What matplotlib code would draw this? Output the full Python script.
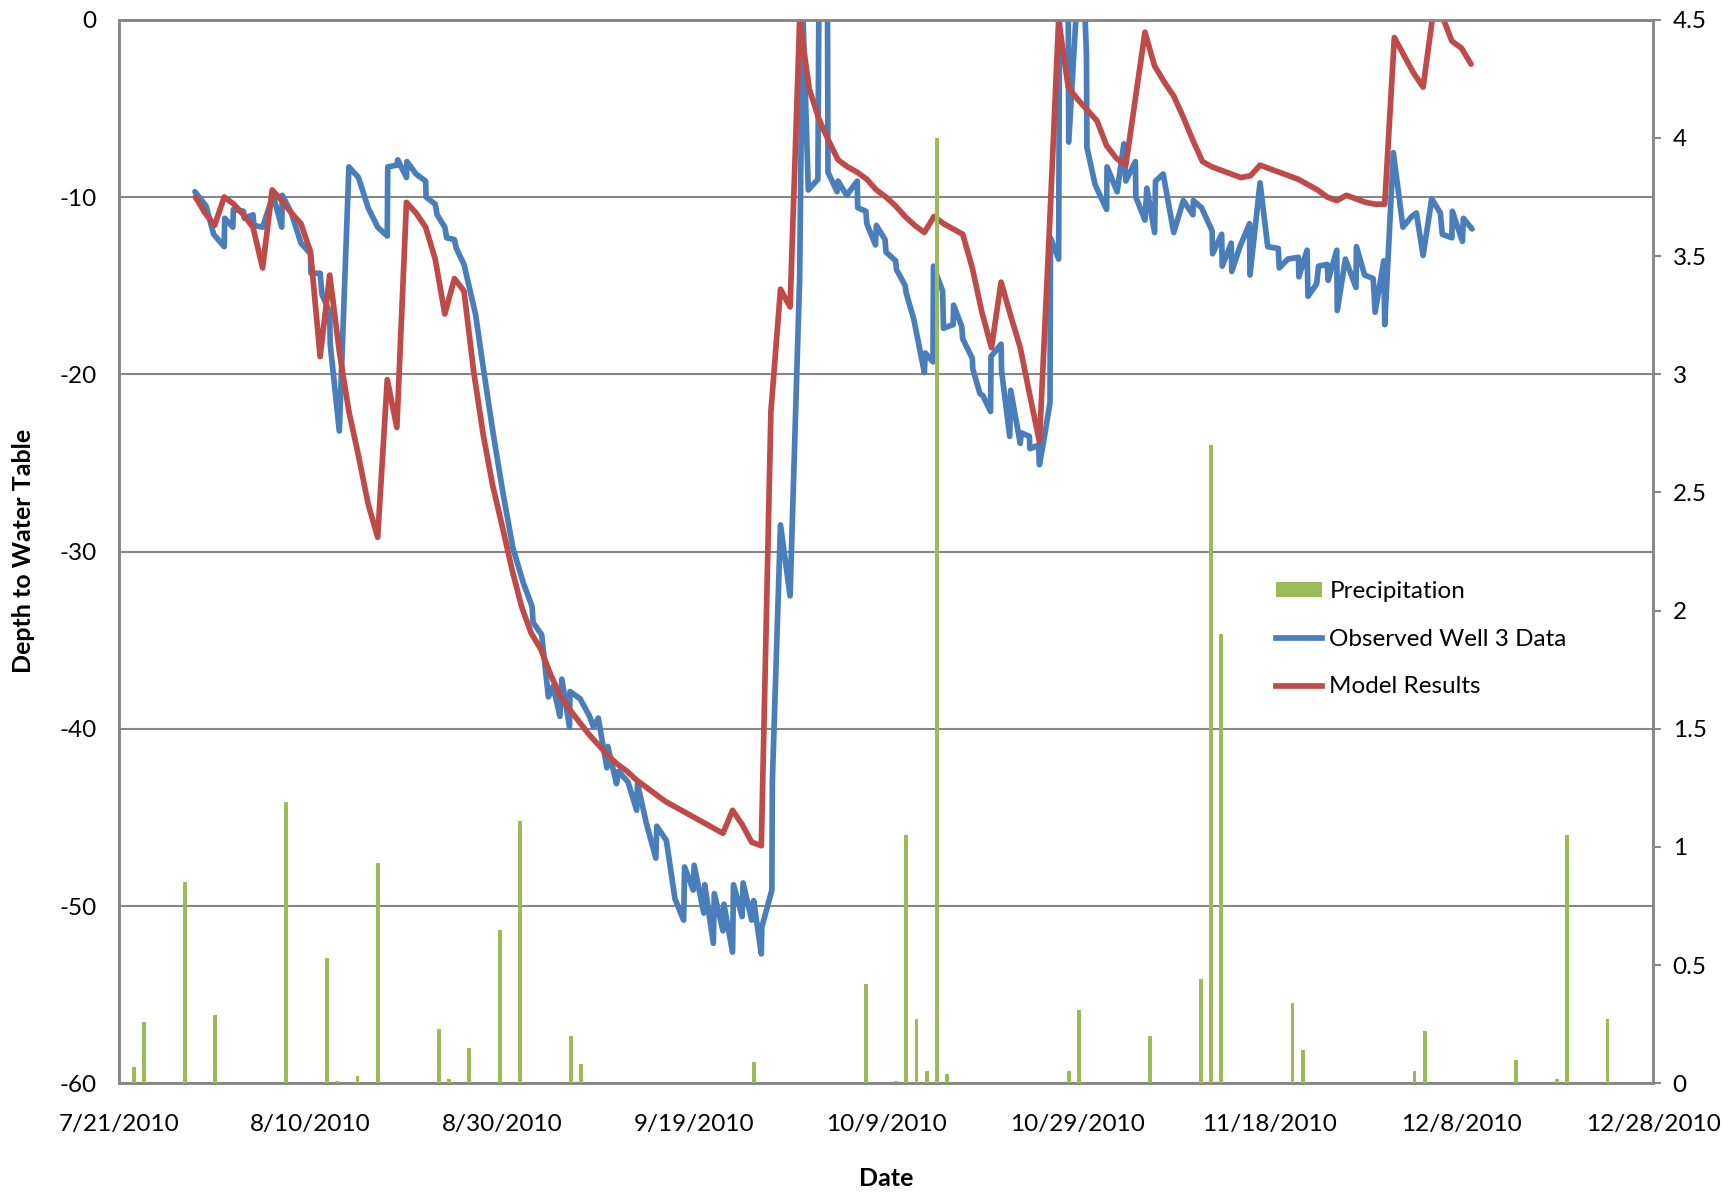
import numpy as np
import matplotlib
matplotlib.use("Agg")
import matplotlib.pyplot as plt
import matplotlib.dates as mdates
from matplotlib.patches import Patch
from matplotlib.lines import Line2D
from matplotlib.ticker import FuncFormatter, FixedLocator
import datetime as dt

# --- data (days after 7/21/2010, depth in ft) ---
start_date = dt.datetime(2010, 7, 21)
end_date = dt.datetime(2010, 12, 28)

model_day = [8, 9, 10, 11, 12, 13, 14, 15, 16, 17, 18, 19, 20, 21, 22, 23, 24, 25, 26, 27,
             28, 29, 30, 31, 32, 33, 34, 35, 36, 37, 38, 39, 40, 41, 42, 43, 44, 45, 46, 47,
             48, 49, 50, 51, 52, 53, 54, 55, 56, 57, 58, 59, 60, 61, 62, 63, 64, 65, 66, 67,
             68, 69, 70, 71, 72, 73, 74, 75, 76, 77, 78, 79, 80, 81, 82, 83, 84, 85, 86, 87,
             88, 89, 90, 91, 92, 93, 94, 95, 96, 97, 98, 99, 100, 101, 102, 103, 104, 105,
             107, 108, 109, 110, 111, 112, 113, 114, 115, 116, 117, 118, 119, 120, 121, 122,
             123, 124, 125, 126, 127, 128, 129, 130, 131, 132, 133, 134, 135, 136, 137, 138,
             139, 140, 141]
model_depth = [-10.0, -10.9, -11.6, -10.0, -10.4, -11.0, -11.7, -14.0, -9.6, -10.2, -10.9,
               -11.5, -13.1, -19.0, -14.4, -18.7, -22.1, -24.6, -27.3, -29.2, -20.3, -23.0,
               -10.3, -10.9, -11.7, -13.5, -16.6, -14.6, -15.3, -19.8, -23.4, -26.3, -28.6,
               -31.0, -33.1, -34.6, -35.5, -36.9, -38.1, -38.9, -39.6, -40.3, -40.9, -41.5,
               -42.0, -42.4, -42.9, -43.3, -43.7, -44.1, -44.4, -44.7, -45.0, -45.3, -45.6,
               -45.9, -44.6, -45.4, -46.4, -46.6, -22.1, -15.2, -16.2, 0.0, -3.9, -5.6, -6.8,
               -7.9, -8.3, -8.6, -9.0, -9.6, -10.0, -10.5, -11.1, -11.6, -12.0, -11.1, -11.5,
               -11.8, -12.1, -14.0, -16.5, -18.5, -14.8, -16.7, -18.5, -21.2, -23.8, -12.3,
               0.0, -3.8, -4.5, -5.1, -5.7, -7.1, -7.8, -8.2, -0.7, -2.6, -3.5, -4.3, -5.5,
               -6.8, -8.0, -8.3, -8.5, -8.7, -8.9, -8.8, -8.2, -8.4, -8.6, -8.8, -9.0, -9.3,
               -9.6, -10.0, -10.2, -9.9, -10.1, -10.3, -10.4, -10.4, -1.0, -2.0, -3.0, -3.8,
               0.2, 0.2, -1.2, -1.6, -2.5]

obs_day = [7.95, 9.1, 9.9, 11.0, 11.05, 11.9, 11.95, 13.0, 13.1, 14.0, 14.1, 15.0, 16.1,
           17.0, 17.05, 18.0, 19.0, 20.0, 20.05, 21.0, 21.2, 22.0, 22.05, 23.0, 24.0, 25.0,
           26.0, 27.0, 28.0, 28.05, 29.0, 29.1, 30.0, 30.05, 31.0, 32.0, 32.05, 33.0, 33.2,
           34.0, 34.2, 35.0, 35.2, 36.0, 37.2, 38.0, 39.0, 40.0, 41.1, 42.2, 43.1, 43.2,
           44.1, 44.8, 45.3, 46.0, 46.2, 47.0, 47.05, 48.1, 49.1, 49.5, 50.0, 50.9, 51.0,
           51.9, 52.1, 53.1, 54.0, 54.1, 55.0, 56.0, 56.1, 57.1, 58.0, 58.9, 59.0, 59.9,
           60.0, 61.0, 61.1, 62.0, 62.1, 63.0, 63.1, 64.0, 64.1, 65.0, 65.1, 66.0, 66.2,
           67.0, 67.05, 68.1, 68.15, 69.0, 70.0, 71.0, 71.3, 71.9, 72.9, 73.0, 73.9, 73.95,
           74.9, 75.0, 75.9, 77.0, 77.05, 77.9, 78.0, 78.9, 79.0, 79.9, 80.0, 81.0, 81.1,
           82.0, 82.1, 82.9, 84.0, 84.1, 84.9, 84.95, 85.9, 86.0, 87.0, 87.05, 87.9, 88.0,
           89.0, 89.05, 89.8, 90.1, 90.9, 90.95, 92.0, 92.05, 92.9, 93.0, 94.0, 94.1, 94.95,
           95.0, 95.9, 96.0, 96.4, 97.1, 97.15, 98.0, 98.1, 99.0, 99.05, 99.9, 100.7, 100.9,
           100.95, 101.8, 103.0, 103.05, 104.1, 104.8, 105.0, 106.0, 106.05, 107.0, 107.2,
           108.0, 108.1, 108.9, 110.0, 111.0, 112.0, 112.05, 112.9, 114.0, 114.05, 115.0,
           115.05, 116.0, 116.05, 116.9, 117.9, 117.95, 119.0, 119.8, 120.9, 121.0, 121.9,
           123.0, 123.05, 123.9, 124.0, 124.9, 125.1, 126.0, 126.1, 127.0, 127.05, 127.9,
           129.0, 129.05, 129.9, 130.8, 131.0, 131.9, 132.0, 132.9, 133.9, 134.8, 135.3,
           136.0, 136.9, 137.8, 138.0, 139.0, 139.05, 140.1, 140.2, 141.1]
obs_depth = [-9.7, -10.5, -12.1, -12.8, -11.2, -11.7, -10.7, -10.8, -11.2, -11.0, -11.6,
             -11.7, -9.9, -11.7, -9.9, -10.9, -12.6, -13.2, -14.3, -14.3, -15.5, -16.5,
             -18.3, -23.2, -8.3, -8.9, -10.6, -11.7, -12.2, -8.3, -8.2, -7.9, -8.9, -8.0,
             -8.7, -9.1, -10.0, -10.4, -11.0, -11.7, -12.3, -12.4, -12.9, -13.8, -16.6,
             -19.6, -23.2, -26.5, -29.8, -31.8, -33.1, -34.0, -34.7, -38.2, -37.6, -39.3,
             -37.2, -39.9, -37.9, -38.3, -39.3, -39.9, -39.4, -42.2, -41.0, -43.1, -42.4,
             -43.0, -44.6, -43.1, -45.3, -47.3, -45.5, -46.3, -49.6, -50.8, -47.8, -49.1,
             -47.7, -50.4, -48.8, -52.1, -49.3, -51.4, -49.9, -52.6, -48.8, -50.6, -48.7,
             -50.8, -49.7, -52.7, -51.2, -49.1, -43.0, -28.5, -32.5, -14.5, 1.0, -9.6, -9.0,
             1.0, 1.0, -8.6, -9.7, -9.1, -9.9, -9.1, -10.6, -10.8, -11.5, -12.7, -11.6,
             -12.4, -13.1, -13.6, -14.1, -15.0, -15.4, -16.9, -19.9, -18.8, -19.3, -13.9,
             -15.3, -17.4, -17.2, -16.1, -17.3, -18.0, -19.1, -19.7, -21.1, -21.2, -22.1,
             -19.0, -18.3, -19.8, -23.5, -20.9, -23.9, -23.3, -23.5, -24.2, -24.0, -25.1,
             -23.9, -21.6, -12.3, -13.5, 1.0, 1.0, -6.9, 1.0, 1.0, -2.0, -7.2, -9.3, -10.7,
             -8.3, -9.7, -7.0, -9.1, -8.0, -10.0, -11.3, -9.5, -12.0, -9.1, -8.7, -12.0,
             -10.2, -11.0, -10.2, -10.6, -11.9, -13.2, -12.1, -13.9, -12.6, -14.2, -12.8,
             -11.5, -14.4, -9.2, -12.8, -12.9, -14.0, -13.5, -13.4, -14.5, -13.0, -15.6,
             -14.9, -13.9, -13.8, -14.7, -13.0, -16.4, -13.5, -15.1, -12.8, -14.4, -14.6,
             -16.5, -13.6, -17.2, -7.5, -11.7, -11.1, -10.9, -13.3, -10.1, -10.9, -12.1,
             -12.3, -10.8, -12.5, -11.2, -11.8]

# precipitation sits on its own (hidden) category axis with 151 slots
n_precip_slots = 151
precip_slot = [1, 2, 6, 9, 16, 20, 21, 23, 25, 31, 32, 34, 37, 39, 44, 45, 62, 73, 76, 77,
               78, 79, 80, 81, 93, 94, 101, 106, 107, 108, 115, 116, 127, 128, 137, 141,
               142, 146]
precip_in = [0.07, 0.26, 0.85, 0.29, 1.19, 0.53, 0.01, 0.03, 0.93, 0.23, 0.02, 0.15, 0.65,
             1.11, 0.20, 0.08, 0.09, 0.42, 0.01, 1.05, 0.27, 0.05, 4.0, 0.04, 0.05, 0.31,
             0.20, 0.44, 2.70, 1.90, 0.34, 0.14, 0.05, 0.22, 0.10, 0.02, 1.05, 0.27]

blue = "#4A7EBB"
red = "#BE4B48"
green = "#9BBB59"
axis_gray = "#868686"
line_w = 4.1

plt.rcParams["font.family"] = ["Lato", "DejaVu Sans"]
plt.rcParams["axes.unicode_minus"] = False

fig = plt.figure(figsize=(17.33, 11.93), dpi=100)
ax = fig.add_axes([0.0685, 0.092, 0.8855, 0.8914])

t0 = mdates.date2num(start_date)
ax.plot(t0 + np.array(obs_day), obs_depth, color=blue, lw=line_w,
        solid_joinstyle="round", solid_capstyle="round")
ax.plot(t0 + np.array(model_day), model_depth, color=red, lw=line_w,
        solid_joinstyle="round", solid_capstyle="round")

ax.set_xlim(t0, mdates.date2num(end_date))
ax.set_ylim(-60, 0)
ax.set_yticks(np.arange(-60, 1, 10))
ax.yaxis.set_major_formatter(FuncFormatter(lambda v, p: f"{v:g}"))
ax.xaxis.set_major_locator(FixedLocator(t0 + np.arange(0, 161, 20)))
ax.xaxis.set_major_formatter(FuncFormatter(
    lambda v, p: "{d.month}/{d.day}/{d.year}".format(d=mdates.num2date(v))))
ax.yaxis.grid(True, color=axis_gray, lw=1.5)
ax.set_axisbelow(True)
ax.tick_params(axis="y", length=0, labelsize=17.5, pad=16)
ax.tick_params(axis="x", length=0, labelsize=17.5, pad=22)
for s in ax.spines.values():
    s.set_color(axis_gray)
    s.set_linewidth(1.8)

# right axis for precipitation
axr = ax.twinx()
axr.set_ylim(0, 4.5)
axr.set_yticks(np.arange(0, 4.51, 0.5))
axr.yaxis.set_major_formatter(FuncFormatter(lambda v, p: f"{v:g}"))
axr.tick_params(axis="y", length=6, width=1.5, color=axis_gray, labelsize=17.5, pad=8)
for s in axr.spines.values():
    s.set_color(axis_gray)
    s.set_linewidth(1.8)

axc = axr.twiny()
axc.bar(precip_slot, precip_in, width=0.38, color=green)
axc.set_xlim(-0.5, n_precip_slots - 0.5)
axc.xaxis.set_visible(False)
for s in axc.spines.values():
    s.set_visible(False)

fig.text(24 / 1733, 0.538, "Depth to Water Table", rotation=90, ha="center", va="center",
         fontsize=18, fontweight="bold")
fig.text(886 / 1733, 1 - 1178 / 1193, "Date", ha="center", va="center",
         fontsize=18, fontweight="bold")

handles = [Patch(facecolor=green, edgecolor="none"),
           Line2D([], [], color=blue, lw=line_w),
           Line2D([], [], color=red, lw=line_w)]
labels = ["Precipitation", "Observed Well 3 Data", "Model Results"]
fig.legend(handles, labels, loc="upper left", bbox_to_anchor=(1276 / 1733, 1 - 581 / 1193),
           bbox_transform=fig.transFigure, frameon=False, fontsize=17.5,
           handlelength=1.9, handleheight=0.55, handletextpad=0.3, labelspacing=1.1,
           borderpad=0, borderaxespad=0)

fig.savefig("out.png", dpi=100)
